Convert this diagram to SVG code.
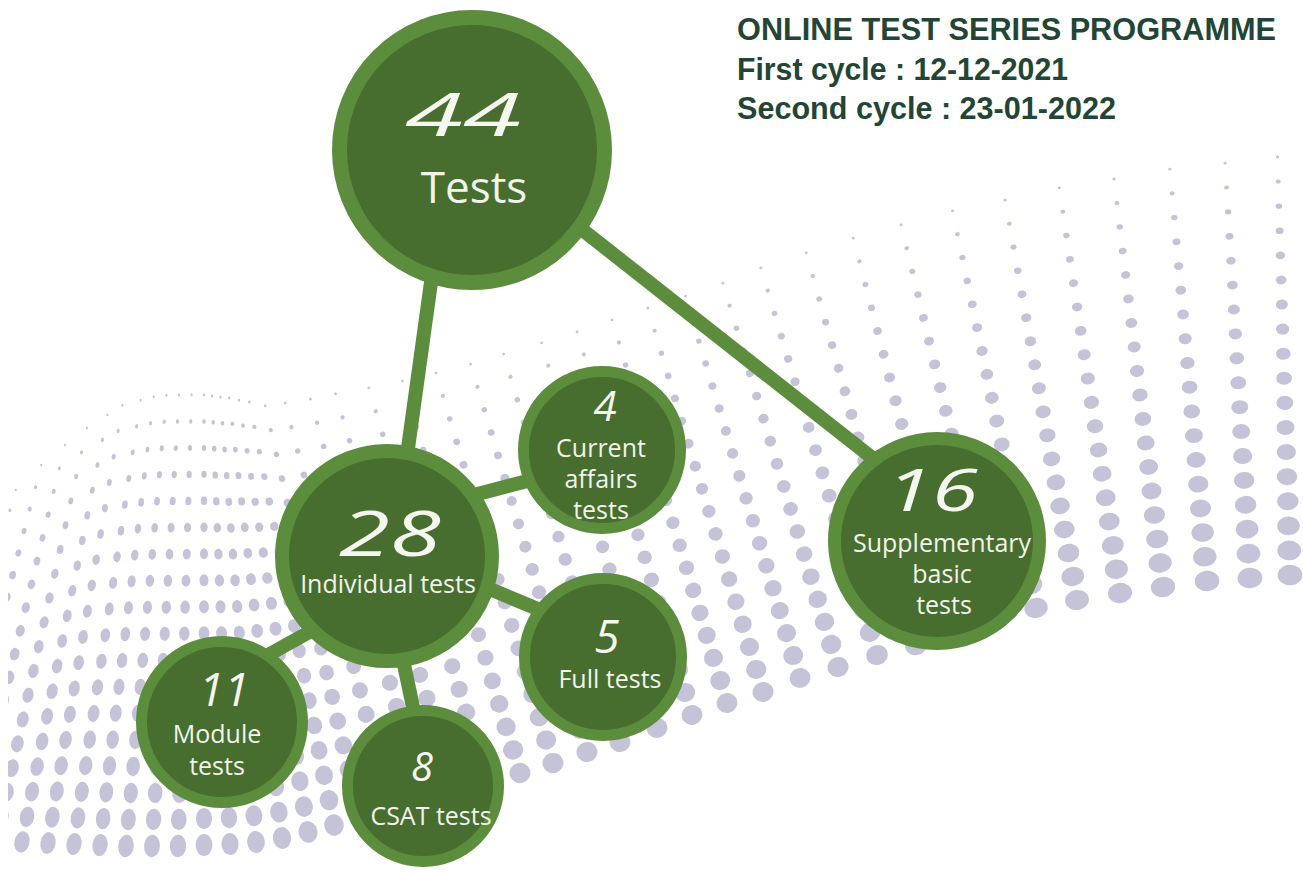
<svg xmlns="http://www.w3.org/2000/svg" width="1303" height="872" viewBox="0 0 1303 872">
<style>
.d{fill:#c5c3d8}
.ring{fill:#476d2f;stroke:#5c8d3d}
.edge{stroke:#5c8d3d;stroke-width:14;fill:none}
.num{font-family:"Open Sans","DejaVu Sans",sans-serif;font-style:italic;fill:#f4f7ee;text-anchor:middle}
.lbl{font-family:"Open Sans","DejaVu Sans",sans-serif;font-size:25px;fill:#f0f4ea;text-anchor:middle}
.title{font-family:"Liberation Sans",Arial,sans-serif;font-weight:bold;font-size:32px;fill:#234536}
</style>
<defs>
<g id="col" class="d">
<circle cx="0" cy="0" r="10.5"/>
<circle cx="0" cy="-25" r="10.04"/>
<circle cx="0" cy="-50" r="9.58"/>
<circle cx="0" cy="-75" r="9.11"/>
<circle cx="0" cy="-100" r="8.64"/>
<circle cx="0" cy="-125" r="8.16"/>
<circle cx="0" cy="-150" r="7.67"/>
<circle cx="0" cy="-175" r="7.18"/>
<circle cx="0" cy="-200" r="6.67"/>
<circle cx="0" cy="-225" r="6.16"/>
<circle cx="0" cy="-250" r="5.64"/>
<circle cx="0" cy="-275" r="5.1"/>
<circle cx="0" cy="-300" r="4.55"/>
<circle cx="0" cy="-325" r="3.98"/>
<circle cx="0" cy="-350" r="3.39"/>
<circle cx="0" cy="-375" r="2.77"/>
<circle cx="0" cy="-400" r="2.12"/>
<circle cx="0" cy="-425" r="1.41"/>
</g>
<clipPath id="clipDots"><rect x="8" y="0" width="1295" height="872"/></clipPath>
</defs>
<rect x="0" y="0" width="1303" height="872" fill="#ffffff"/>
<g id="halftone" clip-path="url(#clipDots)">
<use href="#col" transform="translate(-108,838) rotate(16.7) scale(0.72,0.781)"/>
<use href="#col" transform="translate(-82,839) rotate(15.64) scale(0.72,0.853)"/>
<use href="#col" transform="translate(-56,839) rotate(14.57) scale(0.72,0.909)"/>
<use href="#col" transform="translate(-30,840) rotate(13.5) scale(0.72,0.956)"/>
<use href="#col" transform="translate(-4,841) rotate(12.41) scale(0.72,0.995)"/>
<use href="#col" transform="translate(22,842) rotate(11.31) scale(0.72,1.025)"/>
<use href="#col" transform="translate(48,843) rotate(9.65) scale(0.72,1.045)"/>
<use href="#col" transform="translate(74,844) rotate(8.53) scale(0.72,1.056)"/>
<use href="#col" transform="translate(100,845) rotate(6.84) scale(0.72,1.062)"/>
<use href="#col" transform="translate(126,846) rotate(5.14) scale(0.74,1.065)"/>
<use href="#col" transform="translate(152,846) rotate(3.43) scale(0.76,1.063)"/>
<use href="#col" transform="translate(178,846) rotate(1.72) scale(0.78,1.062)"/>
<use href="#col" transform="translate(204,845) rotate(0) scale(0.8,1.059)"/>
<use href="#col" transform="translate(230,844) rotate(-2.29) scale(0.82,1.055)"/>
<use href="#col" transform="translate(256,842) rotate(-4.57) scale(0.84,1.05)"/>
<use href="#col" transform="translate(282,838) rotate(-6.84) scale(0.87,1.043)"/>
<use href="#col" transform="translate(308,832) rotate(-9.09) scale(0.9,1.029)"/>
<use href="#col" transform="translate(334,825) rotate(-11.31) scale(0.93,1.015)"/>
<use href="#col" transform="translate(360,818) rotate(-12.95) scale(0.96,0.995)"/>
<use href="#col" transform="translate(391,810) rotate(-14.57) scale(0.98,0.989)"/>
<use href="#col" transform="translate(423,801) rotate(-15.64) scale(1,0.982)"/>
<use href="#col" transform="translate(455,792) rotate(-16.7) scale(1,0.978)"/>
<use href="#col" transform="translate(487,782) rotate(-16.7) scale(1,0.968)"/>
<use href="#col" transform="translate(520,773) rotate(-16.7) scale(1,0.963)"/>
<use href="#col" transform="translate(553,763) rotate(-16.7) scale(1,0.958)"/>
<use href="#col" transform="translate(587,752) rotate(-16.7) scale(1,0.953)"/>
<use href="#col" transform="translate(620,742) rotate(-16.7) scale(1,0.953)"/>
<use href="#col" transform="translate(657,728) rotate(-16.7) scale(1,0.946)"/>
<use href="#col" transform="translate(692,715) rotate(-16.7) scale(1,0.941)"/>
<use href="#col" transform="translate(727,703) rotate(-16.7) scale(1,0.941)"/>
<use href="#col" transform="translate(763,692) rotate(-16.7) scale(1,0.943)"/>
<use href="#col" transform="translate(800,678) rotate(-16.7) scale(1,0.938)"/>
<use href="#col" transform="translate(838,667) rotate(-16.7) scale(1.02,0.943)"/>
<use href="#col" transform="translate(877,655) rotate(-16.7) scale(1.04,0.951)"/>
<use href="#col" transform="translate(916,645) rotate(-15.64) scale(1.06,0.958)"/>
<use href="#col" transform="translate(956,633) rotate(-14.57) scale(1.08,0.96)"/>
<use href="#col" transform="translate(996,620) rotate(-13.5) scale(1.1,0.956)"/>
<use href="#col" transform="translate(1036,608) rotate(-11.86) scale(1.12,0.955)"/>
<use href="#col" transform="translate(1077,600) rotate(-10.2) scale(1.14,0.956)"/>
<use href="#col" transform="translate(1120,593) rotate(-8.53) scale(1.15,0.964)"/>
<use href="#col" transform="translate(1163,587) rotate(-6.84) scale(1.16,0.967)"/>
<use href="#col" transform="translate(1207,581) rotate(-5.14) scale(1.17,0.973)"/>
<use href="#col" transform="translate(1250,578) rotate(-3.43) scale(1.18,0.978)"/>
<use href="#col" transform="translate(1290,575) rotate(-1.72) scale(1.18,0.984)"/>
</g>
<g id="title">
<text class="title" x="737" y="40" textLength="539" lengthAdjust="spacingAndGlyphs">ONLINE TEST SERIES PROGRAMME</text>
<text class="title" x="737" y="80" textLength="331" lengthAdjust="spacingAndGlyphs">First cycle : 12-12-2021</text>
<text class="title" x="737" y="119" textLength="379" lengthAdjust="spacingAndGlyphs">Second cycle : 23-01-2022</text>
</g>
<g id="connectors">
<line class="edge" x1="432" y1="275" x2="405" y2="470"/>
<line class="edge" x1="575" y1="224" x2="880" y2="464"/>
<line class="edge" x1="470" y1="496" x2="535" y2="479"/>
<line class="edge" x1="485" y1="587" x2="545" y2="612"/>
<line class="edge" x1="322" y1="625" x2="268" y2="655"/>
<line class="edge" x1="402" y1="655" x2="414" y2="712"/>
</g>
<g id="node-44">
<circle class="ring" cx="472" cy="150" r="132.5" stroke-width="15"/>
<text class="num" x="463" y="136" font-size="60" textLength="116" lengthAdjust="spacingAndGlyphs">44</text>
<text class="lbl" x="474" y="203" style="font-size:44px">Tests</text>
</g>
<g id="node-28">
<circle class="ring" cx="387" cy="556" r="105" stroke-width="14"/>
<text class="num" x="390" y="556" font-size="62" textLength="102" lengthAdjust="spacingAndGlyphs">28</text>
<text class="lbl" x="388" y="593">Individual tests</text>
</g>
<g id="node-4">
<circle class="ring" cx="602" cy="450" r="78.5" stroke-width="11"/>
<text class="num" x="605" y="421" font-size="42">4</text>
<text class="lbl" x="601" y="457">Current</text>
<text class="lbl" x="601" y="488">affairs</text>
<text class="lbl" x="601" y="519">tests</text>
</g>
<g id="node-5">
<circle class="ring" cx="603" cy="657" r="78.5" stroke-width="11"/>
<text class="num" x="607" y="653" font-size="46">5</text>
<text class="lbl" x="610" y="688">Full tests</text>
</g>
<g id="node-16">
<circle class="ring" cx="937" cy="541" r="102.5" stroke-width="13"/>
<text class="num" x="932" y="511" font-size="58" textLength="92" lengthAdjust="spacingAndGlyphs">16</text>
<text class="lbl" x="942" y="552">Supplementary</text>
<text class="lbl" x="942" y="583">basic</text>
<text class="lbl" x="944" y="614">tests</text>
</g>
<g id="node-11">
<circle class="ring" cx="222" cy="722" r="80.5" stroke-width="11"/>
<text class="num" x="224" y="706" font-size="46">11</text>
<text class="lbl" x="217" y="743">Module</text>
<text class="lbl" x="217" y="775">tests</text>
</g>
<g id="node-8">
<circle class="ring" cx="423" cy="786" r="75.5" stroke-width="11"/>
<text class="num" x="422" y="781" font-size="40">8</text>
<text class="lbl" x="431" y="825">CSAT tests</text>
</g>
</svg>
